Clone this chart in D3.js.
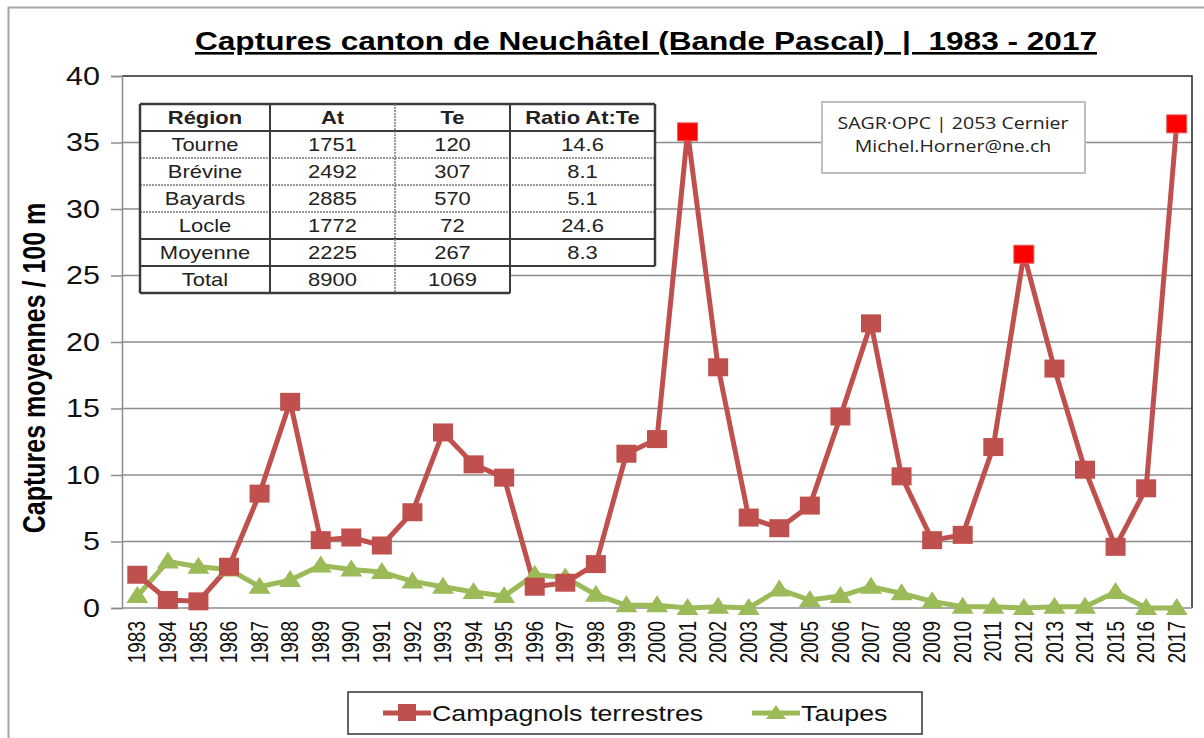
<!DOCTYPE html>
<html>
<head>
<meta charset="utf-8">
<script src="https://cdn.jsdelivr.net/npm/d3@7"></script>
<style>
	body { margin: 0; background: #fff; }
	svg { display: block; font-family: 'Liberation Sans', Arial, sans-serif; }
</style>
</head>
<body>
<svg></svg>
<script>
'use strict'

let years = d3.range(1983, 2018).map(String)

let campagnols = [2.5, 0.6, 0.5, 3.1, 8.6, 15.5, 5.1, 5.3, 4.7, 7.2,
	13.2, 10.8, 9.8, 1.6, 1.9, 3.3, 11.6, 12.7, 35.8, 18.1,
	6.8, 6.0, 7.7, 14.4, 21.4, 9.9, 5.1, 5.5, 12.1, 26.6,
	18.0, 10.4, 4.6, 9.0, 36.4]

let taupes = [0.9, 3.5, 3.1, 2.9, 1.6, 2.1, 3.2, 2.9, 2.7, 2.0,
	1.6, 1.2, 0.9, 2.5, 2.3, 1.0, 0.2, 0.2, 0.0, 0.1,
	0.0, 1.4, 0.6, 0.9, 1.6, 1.1, 0.5, 0.1, 0.1, 0.0,
	0.1, 0.1, 1.2, 0.0, 0.0]

// années mises en évidence (pics)
let highlight = ['2001', '2012', '2017']

let yTicks = [0, 5, 10, 15, 20, 25, 30, 35, 40]

let tableHead = ['Région', 'At', 'Te', 'Ratio At:Te']
let tableRegions = ['Tourne', 'Brévine', 'Bayards', 'Locle', 'Moyenne', 'Total']
let tableAt = ['1751', '2492', '2885', '1772', '2225', '8900']
let tableTe = ['120', '307', '570', '72', '267', '1069']
let tableRatio = ['14.6', '8.1', '5.1', '24.6', '8.3', '']

let infoLines = ['SAGR·OPC | 2053 Cernier', 'Michel.Horner@ne.ch']

let title = 'Captures canton de Neuchâtel (Bande Pascal)  |  1983 - 2017'

let width = 1204,
	height = 738

let red = '#C0504D',
	green = '#9BBB59'

// le rendu d'origine est un peu étiré en largeur
let sx = 1.22

let margin = { left: 122, right: 12, top: 76, bottom: 130 }

let svg = d3.select('svg')
	.attr('width', width)
	.attr('height', height)

function stretch(sel) {
	sel.each(function() {
		let t = d3.select(this)
		let x0 = +t.attr('x') || 0
		t.attr('transform', 'translate(' + x0 + ',0) scale(' + sx + ',1) translate(' + (-x0) + ',0)')
	})
}

// cadre extérieur
svg.append('rect')
	.attr('x', 8.5).attr('y', 7.5)
	.attr('width', width).attr('height', height)
	.attr('fill', '#fff')
	.attr('stroke', '#a6a6a6')
	.attr('stroke-width', 2)

svg.append('text')
	.attr('x', 646)
	.attr('y', 50)
	.attr('text-anchor', 'middle')
	.attr('font-size', 26)
	.attr('font-weight', 'bold')
	.attr('text-decoration', 'underline')
	.attr('textLength', 902)
	.attr('lengthAdjust', 'spacingAndGlyphs')
	.style('white-space', 'pre')
	.text(title)

let x = d3.scaleBand()
	.domain(years)
	.range([margin.left, width - margin.right])

let y = d3.scaleLinear()
	.domain([0, 40])
	.range([height - margin.bottom, margin.top])

let plot = svg.append('g')

// grille
plot.append('g')
	.selectAll('line')
	.data(yTicks.filter(function(d) { return d > 0 && d < 40 }))
	.enter().append('line')
	.attr('x1', margin.left)
	.attr('x2', width - margin.right)
	.attr('y1', function(d) { return y(d) })
	.attr('y2', function(d) { return y(d) })
	.attr('stroke', '#8c8c8c')
	.attr('stroke-width', 1.5)

// bordure haut / droite
plot.append('path')
	.attr('d', 'M' + margin.left + ',' + y(40) + 'H' + (width - margin.right) + 'V' + y(0))
	.attr('fill', 'none')
	.attr('stroke', '#262626')
	.attr('stroke-width', 1.5)

let yAxis = plot.append('g')
	.attr('transform', 'translate(' + margin.left + ',0)')
	.call(d3.axisLeft(y).tickValues(yTicks).tickSize(11).tickPadding(11))

yAxis.select('.domain').attr('stroke', '#8c8c8c').attr('stroke-width', 1.5)
yAxis.selectAll('.tick line').attr('stroke', '#8c8c8c').attr('stroke-width', 1.5)
yAxis.selectAll('.tick text')
	.attr('font-size', 25)
	.attr('fill', '#111')
	.attr('font-family', 'Liberation Sans, Arial, sans-serif')
	.call(stretch)

let xAxis = plot.append('g')
	.attr('transform', 'translate(0,' + y(0) + ')')
	.call(d3.axisBottom(x).tickSize(0).tickPadding(0))

xAxis.select('.domain').attr('stroke', '#8c8c8c').attr('stroke-width', 1.5)
	.attr('d', 'M' + margin.left + ',0H' + (width - margin.right))
xAxis.selectAll('.tick text')
	.attr('font-size', 19)
	.attr('fill', '#111')
	.attr('font-family', 'Liberation Sans, Arial, sans-serif')
	.attr('text-anchor', 'end')
	.attr('transform', 'scale(' + sx + ',1) rotate(-90)')
	.attr('x', -13)
	.attr('y', 0)
	.attr('dy', '0.35em')

svg.append('text')
	.attr('transform', 'translate(45,368) scale(' + sx + ',1) rotate(-90)')
	.attr('text-anchor', 'middle')
	.attr('font-size', 25)
	.attr('font-weight', 'bold')
	.text('Captures moyennes / 100 m')

// tableau
let colX = [140, 270, 395, 510, 655]
let rowY = [104, 131, 158, 185, 212, 239, 266, 293]

let tbl = svg.append('g')

tbl.append('rect')
	.attr('x', colX[0]).attr('y', rowY[0])
	.attr('width', colX[4] - colX[0]).attr('height', rowY[6] - rowY[0])
	.attr('fill', '#fff')
tbl.append('rect')
	.attr('x', colX[0]).attr('y', rowY[6])
	.attr('width', colX[3] - colX[0]).attr('height', rowY[7] - rowY[6])
	.attr('fill', '#fff')

let rows = [tableHead]
tableRegions.forEach(function(r, i) {
	rows.push([r, tableAt[i], tableTe[i], tableRatio[i]])
})

rows.forEach(function(row, i) {
	row.forEach(function(cell, j) {
		tbl.append('text')
			.attr('x', (colX[j] + colX[j + 1]) / 2)
			.attr('y', (rowY[i] + rowY[i + 1]) / 2)
			.attr('dy', '0.36em')
			.attr('text-anchor', 'middle')
			.attr('font-size', 18)
			.attr('font-weight', i === 0 ? 'bold' : 'normal')
			.attr('fill', '#222')
			.text(cell)
			.call(stretch)
	})
})

function tline(x1, y1, x2, y2, dashed, w) {
	tbl.append('line')
		.attr('x1', x1).attr('y1', y1)
		.attr('x2', x2).attr('y2', y2)
		.attr('stroke', dashed ? '#777' : '#3a3a3a')
		.attr('stroke-width', w || 1.5)
		.attr('stroke-dasharray', dashed ? '2,1' : null)
}

// horizontales
tline(colX[0], rowY[0], colX[4], rowY[0], false, 2.5)
tline(colX[0], rowY[1], colX[4], rowY[1], false, 2)
tline(colX[0], rowY[2], colX[4], rowY[2], true)
tline(colX[0], rowY[3], colX[4], rowY[3], true)
tline(colX[0], rowY[4], colX[4], rowY[4], true)
tline(colX[0], rowY[5], colX[4], rowY[5], false, 2)
tline(colX[0], rowY[6], colX[4], rowY[6], false, 2)
tline(colX[0], rowY[7], colX[3], rowY[7], false, 2.5)
// verticales
tline(colX[0], rowY[0], colX[0], rowY[7], false, 2.5)
tline(colX[1], rowY[0], colX[1], rowY[7], false, 2)
tline(colX[2], rowY[0], colX[2], rowY[7], true)
tline(colX[3], rowY[0], colX[3], rowY[7], false, 2)
tline(colX[4], rowY[0], colX[4], rowY[6], false, 2.5)

// cadre info
svg.append('rect')
	.attr('x', 822).attr('y', 102)
	.attr('width', 263).attr('height', 71)
	.attr('fill', '#fff')
	.attr('stroke', '#bfbfbf')
	.attr('stroke-width', 2)

svg.append('g')
	.selectAll('text')
	.data(infoLines)
	.enter().append('text')
	.attr('x', 953)
	.attr('y', function(d, i) { return 129 + i * 23 })
	.attr('text-anchor', 'middle')
	.attr('font-size', 16)
	.attr('font-family', 'Open Sans, sans-serif')
	.attr('fill', '#222')
	.text(function(d) { return d })
	.call(stretch)

// séries
let cx = function(d, i) { return x(years[i]) + x.bandwidth() / 2 }

let line = d3.line()
	.x(function(d, i) { return cx(d, i) })
	.y(function(d) { return y(d) })

plot.append('path')
	.datum(taupes)
	.attr('d', line)
	.attr('fill', 'none')
	.attr('stroke', green)
	.attr('stroke-width', 5)
	.attr('stroke-linejoin', 'round')

plot.append('path')
	.datum(campagnols)
	.attr('d', line)
	.attr('fill', 'none')
	.attr('stroke', red)
	.attr('stroke-width', 5)
	.attr('stroke-linejoin', 'round')

// triangle un peu plus large que haut
let triPath = 'M0,-10L11,7L-11,7Z'

plot.append('g')
	.selectAll('path')
	.data(taupes)
	.enter().append('path')
	.attr('d', triPath)
	.attr('transform', function(d, i) {
		return 'translate(' + cx(d, i) + ',' + y(d) + ')'
	})
	.attr('fill', green)

plot.append('g')
	.selectAll('rect')
	.data(campagnols)
	.enter().append('rect')
	.attr('x', function(d, i) { return cx(d, i) - 10 })
	.attr('y', function(d) { return y(d) - 9 })
	.attr('width', 20)
	.attr('height', 18)
	.attr('fill', function(d, i) {
		return highlight.indexOf(years[i]) >= 0 ? '#ff0000' : red
	})
	.attr('stroke', function(d, i) {
		return highlight.indexOf(years[i]) >= 0 ? '#e06060' : 'none'
	})

// légende
let leg = svg.append('g')

leg.append('rect')
	.attr('x', 348).attr('y', 692)
	.attr('width', 574).attr('height', 42)
	.attr('fill', '#fff')
	.attr('stroke', '#333')
	.attr('stroke-width', 1.5)

let legItems = [
	{ label: 'Campagnols terrestres', color: red, x0: 383, shape: 'square' },
	{ label: 'Taupes', color: green, x0: 752, shape: 'triangle' }
]

legItems.forEach(function(it) {
	leg.append('line')
		.attr('x1', it.x0).attr('x2', it.x0 + 48)
		.attr('y1', 713).attr('y2', 713)
		.attr('stroke', it.color)
		.attr('stroke-width', 5)
	if (it.shape === 'square') {
		leg.append('rect')
			.attr('x', it.x0 + 15).attr('y', 704)
			.attr('width', 18).attr('height', 17)
			.attr('fill', it.color)
	} else {
		leg.append('path')
			.attr('d', 'M0,-8L10,6L-10,6Z')
			.attr('transform', 'translate(' + (it.x0 + 24) + ',713)')
			.attr('fill', it.color)
	}
	leg.append('text')
		.attr('x', it.x0 + 49)
		.attr('y', 721)
		.attr('font-size', 22)
		.attr('fill', '#111')
		.text(it.label)
		.call(stretch)
})
</script>
</body>
</html>
